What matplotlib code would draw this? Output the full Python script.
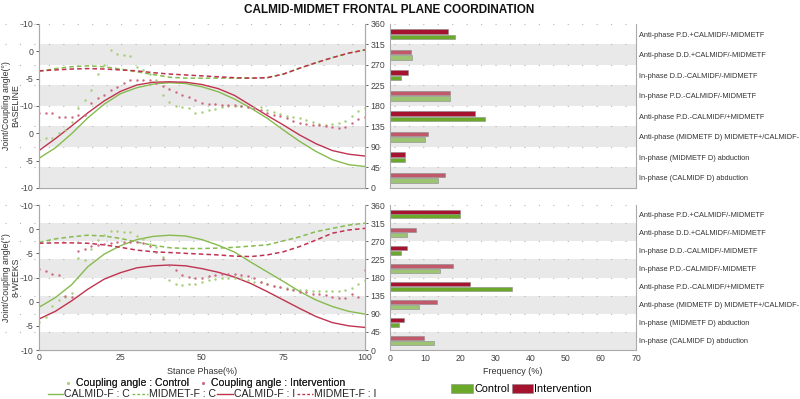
import numpy as np
import matplotlib.pyplot as plt
from matplotlib.lines import Line2D
from matplotlib.patches import Patch

plt.rcParams['font.family'] = ['Liberation Sans', 'DejaVu Sans']

# stance phase (%) for joint angle curves and coupling angle dots
phase = list(range(0, 101, 5))
phase_ca = list(range(0, 101, 2))

# ---- BASELINE joint angles (drawn on 0-360 scale)
calmid_c_base = [65, 88, 119, 154, 184, 207, 220, 228, 231, 229, 222, 211, 195, 175, 153, 127, 102, 80, 62, 51, 47]
calmid_i_base = [82, 108, 136, 165, 191, 212, 226, 232, 233, 232, 227, 218, 203, 181, 159, 138, 116, 97, 82, 74, 70]
midmet_c_base = [256, 262, 266, 268, 266, 261, 255, 249, 243, 241, 241, 241, 241, 241, 242, 250, 263, 275, 286, 296, 303]
midmet_i_base = [257, 259, 261, 262, 261, 259, 257, 253, 250, 248, 246, 244, 242, 241, 242, 250, 263, 275, 286, 296, 303]

# ---- BASELINE coupling angles
ca_c_base = [105, 110, 110, 120, 127, 145, 175, 192, 215, 250, 270, 303, 295, 292, 290, 266, 258, 250, 238, 204,
             188, 180, 177, 176, 164, 167, 170, 174, 177, 179, 180, 179, 178, 178, 177, 170, 166, 162, 158, 155,
             153, 149, 144, 140, 138, 140, 142, 147, 157, 168, 176]
ca_i_base = [164, 164, 164, 156, 156, 156, 160, 160, 186, 197, 204, 215, 222, 230, 237, 238, 237, 236, 230, 224,
             218, 211, 205, 200, 194, 187, 185, 184, 183, 183, 182, 180, 177, 175, 170, 165, 161, 157, 153, 148,
             143, 141, 139, 138, 135, 134, 132, 133, 143, 152, 156]

# ---- 8-WEEKS joint angles
calmid_c_8w = [106, 130, 162, 207, 238, 259, 274, 282, 285, 283, 274, 260, 243, 218, 194, 170, 145, 124, 108, 96, 89]
calmid_i_8w = [77, 96, 122, 151, 176, 192, 204, 209, 211, 209, 202, 193, 181, 165, 145, 124, 103, 83, 68, 60, 56]
midmet_c_8w = [267, 276, 281, 285, 283, 277, 268, 260, 254, 252, 252, 253, 255, 258, 261, 271, 281, 294, 302, 310, 315]
midmet_i_8w = [265, 266, 266, 265, 261, 255, 248, 244, 242, 240, 238, 236, 233, 232, 236, 244, 257, 273, 290, 298, 302]

# ---- 8-WEEKS coupling angles
ca_c_8w = [70, 83, 110, 125, 132, 141, 228, 223, 250, 273, 285, 295, 296, 294, 292, 284, 275, 264, 255, 232,
           174, 163, 162, 164, 165, 170, 174, 177, 179, 180, 180, 178, 175, 170, 168, 165, 160, 157, 154, 151,
           149, 148, 147, 147, 147, 147, 147, 148, 155, 165, 175]
ca_i_8w = [200, 195, 188, 186, 135, 132, 245, 252, 257, 260, 262, 265, 268, 269, 269, 268, 266, 258, 243, 225,
           212, 199, 187, 181, 180, 180, 184, 186, 188, 189, 189, 187, 183, 178, 170, 165, 160, 156, 152, 148,
           145, 143, 140, 138, 136, 132, 130, 128, 140, 132, 199]

# ---- coordination pattern frequencies (top to bottom)
categories = ['Anti-phase P.D.+CALMIDF/-MIDMETF', 'Anti-phase D.D.+CALMIDF/-MIDMETF',
              'In-phase D.D.-CALMIDF/-MIDMETF', 'In-phase P.D.-CALMIDF/-MIDMETF',
              'Anti-phase P.D.-CALMIDF/+MIDMETF', 'Anti-phase (MIDMETF D) MIDMETF+/CALMIDF-',
              'In-phase (MIDMETF D) abduction', 'In-phase (CALMIDF D) abduction']
freq_c_base = [18.5, 6.4, 3.2, 17.2, 27.0, 9.9, 4.2, 13.6]
freq_i_base = [16.6, 6.0, 5.1, 17.2, 24.2, 10.8, 4.3, 15.7]
freq_c_8w = [19.9, 4.8, 3.1, 14.2, 34.8, 8.3, 2.6, 12.4]
freq_i_8w = [19.8, 7.3, 4.9, 17.9, 22.8, 13.5, 4.0, 9.8]

left_labels = ['-10', '-5', '0', '-10', '-5', '0', '-10']

GREEN = '#6aa92a'
RED = '#a5132f'
GREEN_L = '#9cc472'
RED_L = '#c1596b'
BAND = '#e9e9e9'
DOT = (0, (1, 12))

fig = plt.figure(figsize=(8, 3.99), dpi=100)


def draw_row(rect_l, rect_b, curves, dots, fc, fi, ylabel, bottom):
    ax = fig.add_axes(rect_l)
    ax2 = ax.twinx()
    ax.set_xlim(0, 100)
    ax.set_ylim(0, 6)
    ax.set_yticks(range(7))
    ax.set_yticklabels(left_labels)
    ax2.set_ylim(0, 360)
    ax2.set_yticks(range(0, 361, 45))
    for a in (ax, ax2):
        a.tick_params(labelsize=6.3, colors='#444444', length=2.5, width=0.6, pad=1.5)
        for s in a.spines.values():
            s.set_color('#aaaaaa')
        a.spines['top'].set_visible(False)
    ax.set_ylabel(ylabel, fontsize=6.3, color='#333333', linespacing=1.1)
    ax.yaxis.set_label_coords(-0.057, 0.5)

    for k in range(0, 8, 2):
        ax2.axhspan(45 * k, 45 * (k + 1), color=BAND, lw=0, zorder=0)
    for k in range(1, 9):
        ax2.axhline(45 * k, xmin=-0.105, xmax=1, color='#b5b5b5', lw=0.8,
                    ls=DOT, clip_on=False, zorder=0.5)

    cc, ci, mc, mi = curves
    ax2.plot(phase, cc, color='#86bb4e', lw=1.0)
    ax2.plot(phase, mc, color='#86bb4e', lw=1.1, ls=(0, (3, 2)))
    ax2.plot(phase, ci, color='#bf3350', lw=1.0)
    ax2.plot(phase, mi, color='#bf3350', lw=1.1, ls=(0, (3, 2)))
    dc, di = dots
    ax2.plot(phase_ca, dc, ls='none', marker='.', ms=1.5, color='#a6cf7a')
    ax2.plot(phase_ca, di, ls='none', marker='.', ms=1.5, color='#cc6a7e')

    if bottom:
        ax.set_xticks([0, 25, 50, 75, 100])
        ax.tick_params(axis='x', direction='in', pad=2.5)
        ax.set_xlabel('Stance Phase(%)', fontsize=6.5, color='#333333', labelpad=3)
    else:
        ax.set_xticks([])

    # bar panel
    axb = fig.add_axes(rect_b)
    pos = np.arange(len(categories))[::-1] + 0.5
    for k in range(0, 8, 2):
        axb.axhspan(k, k + 1, color=BAND, lw=0, zorder=0)
    for k in range(1, 9):
        axb.axhline(k, xmin=-0.1, xmax=1, color='#b5b5b5', lw=0.8,
                    ls=DOT, clip_on=False, zorder=0.5)
    light = [i % 2 == 1 for i in range(len(categories))]
    axb.barh(pos + 0.14, fi, height=0.22, color=[RED_L if l else RED for l in light],
             edgecolor='#8a8a8a', lw=0.4, zorder=2)
    axb.barh(pos - 0.13, fc, height=0.22, color=[GREEN_L if l else GREEN for l in light],
             edgecolor='#8a8a8a', lw=0.4, zorder=2)
    axb.set_xlim(0, 70)
    axb.set_ylim(0, 8)
    axb.yaxis.tick_right()
    axb.set_yticks(pos)
    axb.set_yticklabels(categories)
    axb.tick_params(axis='y', length=0, pad=2, labelsize=5.35, colors='#333333')
    axb.tick_params(axis='x', labelsize=6.3, colors='#444444', length=0, pad=3)
    for s in axb.spines.values():
        s.set_color('#aaaaaa')
    axb.spines['top'].set_visible(False)
    if bottom:
        axb.set_xticks(range(0, 71, 10))
        axb.set_xlabel('Frequency (%)', fontsize=6.5, color='#333333', labelpad=3)
    else:
        axb.set_xticks([])


draw_row([0.04875, 0.529, 0.4075, 0.411], [0.4875, 0.529, 0.3075, 0.411],
         (calmid_c_base, calmid_i_base, midmet_c_base, midmet_i_base),
         (ca_c_base, ca_i_base), freq_c_base, freq_i_base,
         'Joint/Coupling angle(°)\nBASELINE', False)
draw_row([0.04875, 0.1228, 0.4075, 0.3634], [0.4875, 0.1228, 0.3075, 0.3634],
         (calmid_c_8w, calmid_i_8w, midmet_c_8w, midmet_i_8w),
         (ca_c_8w, ca_i_8w), freq_c_8w, freq_i_8w,
         'Joint/Coupling angle(°)\n8-WEEKS', True)

fig.text(0.487, 0.99, 'CALMID-MIDMET FRONTAL PLANE COORDINATION', ha='center', va='top',
         fontsize=8.5, fontweight='bold', color='#111111')

# line chart legends
h1 = [Line2D([], [], ls='none', marker='.', ms=2.0, color='#a6cf7a'),
      Line2D([], [], ls='none', marker='.', ms=2.0, color='#cc6a7e')]
leg1 = fig.legend(h1, ['Coupling angle : Control', 'Coupling angle : Intervention'],
                  loc='center', bbox_to_anchor=(0.255, 0.039), ncol=2, frameon=False,
                  fontsize=7.6, handlelength=1.0, handletextpad=0.3, columnspacing=0.8,
                  borderpad=0, labelcolor='#222222')
h2 = [Line2D([], [], color='#86bb4e', lw=1.0),
      Line2D([], [], color='#86bb4e', lw=1.0, ls=(0, (2, 1.5))),
      Line2D([], [], color='#bf3350', lw=1.0),
      Line2D([], [], color='#bf3350', lw=1.0, ls=(0, (2, 1.5)))]
leg2 = fig.legend(h2, ['CALMID-F : C', 'MIDMET-F : C', 'CALMID-F : I', 'MIDMET-F : I'],
                  loc='center', bbox_to_anchor=(0.265, 0.012), ncol=4, frameon=False,
                  fontsize=7.6, handlelength=1.5, handletextpad=0.1, columnspacing=0.15,
                  borderpad=0, labelcolor='#222222')
fig.add_artist(leg1)

# bar chart legend
h3 = [Patch(facecolor=GREEN, edgecolor='#8a8a8a', lw=0.4),
      Patch(facecolor=RED, edgecolor='#8a8a8a', lw=0.4)]
fig.legend(h3, ['Control', 'Intervention'], loc='center', bbox_to_anchor=(0.652, 0.025),
           ncol=2, frameon=False, fontsize=7.8, handlelength=2.0, handleheight=1.0,
           handletextpad=0.1, columnspacing=0.2, borderpad=0)

fig.savefig('out.png', dpi=100)
